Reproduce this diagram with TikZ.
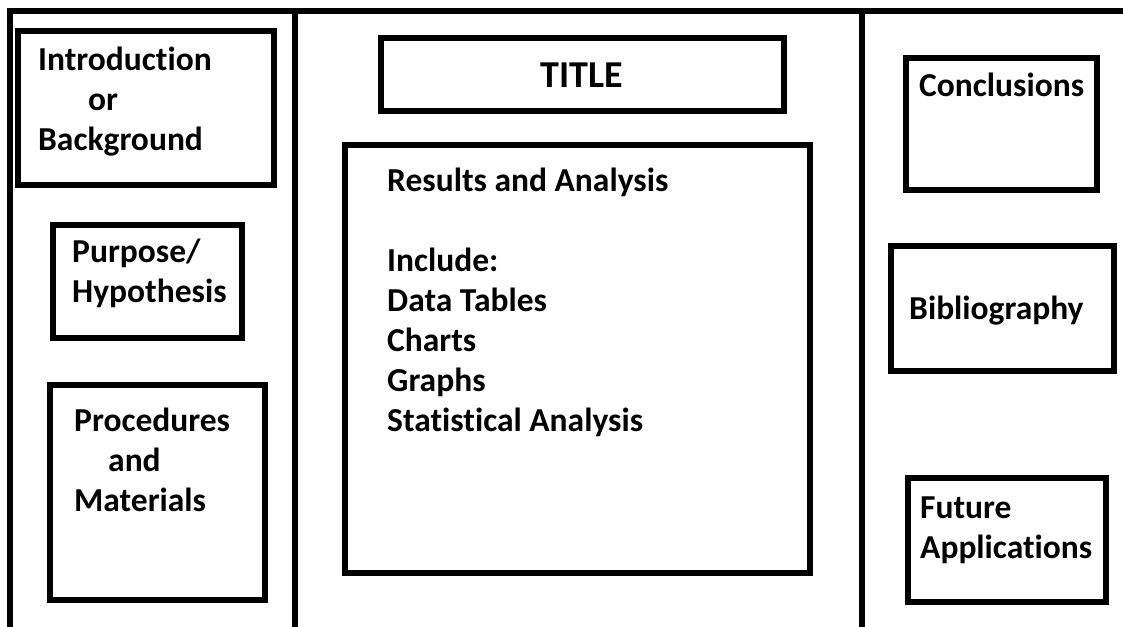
\documentclass[tikz,border=0pt]{standalone}
\usepackage{fontspec}
\setmainfont[Ligatures={NoCommon}]{Carlito}

\begin{document}
\begin{tikzpicture}[x=1pt, y=-1pt,
    fold/.style={line width=6pt},
    panel/.style={draw, line width=6.5pt},
    txt/.style={anchor=base west, inner sep=0pt, align=left,
      font=\fontsize{33.5}{40}\selectfont\bfseries}]
  \useasboundingbox (0,0) rectangle (1123,626);

  % board outline and the two folds
  \draw[fold] (1135,11) -- (10,11) -- (10,640);
  \draw[fold] (295,11) -- (295,640);
  \draw[fold] (862,11) -- (862,640);

  % left wing (nodes sit on the baseline of their last line)
  \draw[panel] (18,31) rectangle (274,185);
  \draw[panel] (53,225) rectangle (242,338);
  \draw[panel] (50,385) rectangle (265,600);
  \node[txt] (intro) at (38,150) {Introduction\\\hspace*{50pt}or\\Background};
  \node[txt] (purpose) at (72,302) {Purpose/\\Hypothesis};
  \node[txt] (proc) at (74,511) {Procedures\\\hspace*{34pt}and\\Materials};

  % middle
  \draw[panel] (381,38) rectangle (784,111);
  \draw[panel] (345,145) rectangle (810,573);
  \node[inner sep=0pt, font=\fontsize{38}{40}\selectfont\bfseries] (title) at (582,75) {TITLE};
  \node[txt] (results) at (387,431)
    {Results and Analysis\\[40pt]Include:\\Data Tables\\Charts\\Graphs\\Statistical Analysis};

  % right wing
  \draw[panel] (906,58) rectangle (1097,190);
  \draw[panel] (891,246) rectangle (1114,371);
  \draw[panel] (908,478) rectangle (1106,602);
  \node[txt] (concl) at (919,96) {Conclusions};
  \node[txt] (biblio) at (909,319) {Bibliography};
  \node[txt] (future) at (920,558) {Future\\Applications};
\end{tikzpicture}
\end{document}
